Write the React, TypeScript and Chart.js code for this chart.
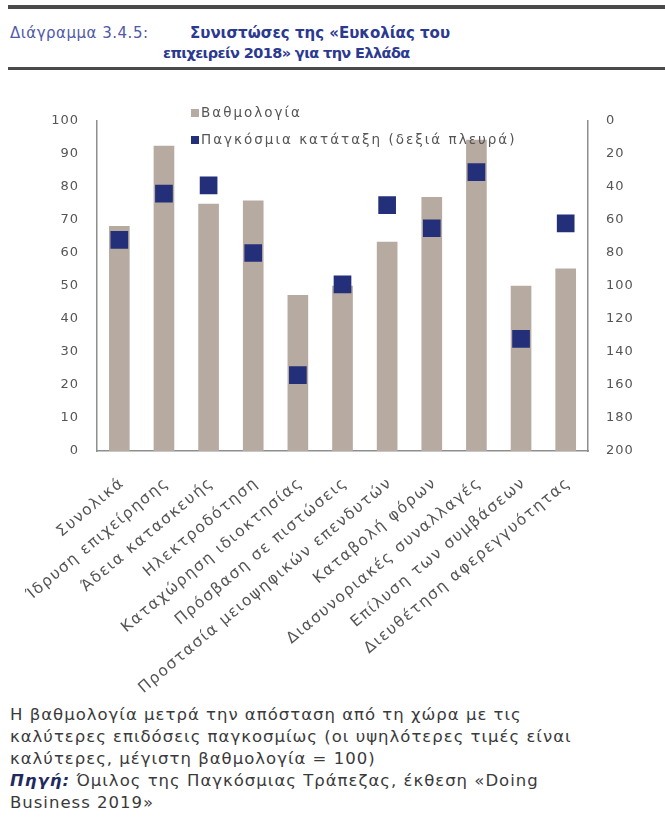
import React, { useEffect, useRef } from "react";
import { Chart, registerables } from "chart.js";

Chart.register(...registerables);

const categories: string[] = [
  "Συνολικά",
  "Ίδρυση επιχείρησης",
  "Άδεια κατασκευής",
  "Ηλεκτροδότηση",
  "Καταχώρηση ιδιοκτησίας",
  "Πρόσβαση σε πιστώσεις",
  "Προστασία μειοψηφικών επενδυτών",
  "Καταβολή φόρων",
  "Διασυνοριακές συναλλαγές",
  "Επίλυση των συμβάσεων",
  "Διευθέτηση αφερεγγυότητας",
];

const scores: number[] = [68.1, 92.4, 74.8, 75.8, 47.2, 50.0, 63.3, 76.9, 94.2, 50.0, 55.2];
const ranks: number[] = [72, 44, 39, 80, 154, 99, 51, 65, 31, 132, 62];

const scoreLabel = "Βαθμολογία";
const rankLabel = "Παγκόσμια κατάταξη (δεξιά πλευρά)";

const BAR = "#b7aaa1";
const MARK = "#232f78";
const AXIS = "#8e8e8e";
const TICK = "#555555";
const FONT = "'DejaVu Sans', sans-serif";

const SPACING: Record<string, string> = { x: "1.5px", y: "1px", y2: "1px" };

const spacingPlugin = {
  id: "letterSpacing",
  afterLayout(chart: any) {
    Object.keys(chart.scales).forEach((id) => {
      const s = chart.scales[id];
      if (s.__spacingPatched) return;
      const orig = s.drawLabels;
      s.drawLabels = function (area: any) {
        const ctx = this.ctx;
        ctx.save();
        ctx.letterSpacing = SPACING[id] || "0px";
        orig.call(this, area);
        ctx.restore();
      };
      s.__spacingPatched = true;
    });
  },
};

export default function App() {
  const ref = useRef<HTMLCanvasElement | null>(null);

  useEffect(() => {
    if (!ref.current) return;
    const chart = new Chart(ref.current, {
      data: {
        labels: categories,
        datasets: [
          {
            type: "line" as const,
            label: rankLabel,
            data: ranks,
            yAxisID: "y2",
            showLine: false,
            pointStyle: "rect",
            pointRadius: 12.5,
            pointBackgroundColor: MARK,
            pointBorderColor: MARK,
            pointBorderWidth: 0,
            order: 1,
          },
          {
            type: "bar" as const,
            label: scoreLabel,
            data: scores,
            yAxisID: "y",
            backgroundColor: BAR,
            barThickness: 20,
            order: 2,
          },
        ],
      },
      options: {
        animation: false,
        responsive: true,
        maintainAspectRatio: false,
        layout: { padding: { top: 26, left: 0, right: 0, bottom: 0 } },
        plugins: { legend: { display: false }, tooltip: { enabled: false } },
        scales: {
          x: {
            grid: { display: false, drawTicks: false },
            border: { display: true, color: AXIS, width: 1.5 },
            ticks: {
              color: TICK,
              font: { family: FONT, size: 15.5 },
              minRotation: 40,
              maxRotation: 40,
              padding: 23,
              labelOffset: 3,
              autoSkip: false,
            },
            afterFit: (s: any) => {
              s.height = 249;
            },
          },
          y: {
            position: "left",
            min: 0,
            max: 100,
            grid: { display: false, drawTicks: false },
            border: { display: true, color: AXIS, width: 1.5 },
            ticks: {
              stepSize: 10,
              color: TICK,
              font: { family: FONT, size: 13 },
              padding: 18,
            },
            afterFit: (s: any) => {
              s.width = 97;
            },
          },
          y2: {
            position: "right",
            reverse: true,
            min: 0,
            max: 200,
            grid: { display: false, drawTicks: false },
            border: { display: true, color: AXIS, width: 1.5 },
            ticks: {
              stepSize: 20,
              color: TICK,
              font: { family: FONT, size: 13 },
              padding: 18,
            },
            afterFit: (s: any) => {
              s.width = 77;
            },
          },
        },
      },
      plugins: [spacingPlugin],
    } as any);
    return () => chart.destroy();
  }, []);

  return (
    <div style={{ position: "absolute", left: 0, top: 0, width: 665, height: 835, background: "#fff", fontFamily: FONT }}>
      <div style={{ position: "absolute", left: 8, top: 5, width: 657, height: 4, background: "#4a4a4a" }} />
      <div style={{ position: "absolute", left: 10, top: 24, fontSize: 15, letterSpacing: "0.5px", color: "#5058a8", whiteSpace: "nowrap" }}>
        Διάγραμμα 3.4.5:
      </div>
      <div style={{ position: "absolute", left: 190, top: 24, fontSize: 15, fontWeight: "bold", color: "#2b3990", whiteSpace: "nowrap" }}>
        Συνιστώσες της «Ευκολίας του
      </div>
      <div style={{ position: "absolute", left: 163, top: 45, fontSize: 14.5, letterSpacing: "-0.6px", fontWeight: "bold", color: "#2b3990", whiteSpace: "nowrap" }}>
        επιχειρείν 2018» για την Ελλάδα
      </div>
      <div style={{ position: "absolute", left: 8, top: 67, width: 657, height: 3, background: "#4a4a4a" }} />

      <div style={{ position: "absolute", left: 0, top: 95, width: 665, height: 605 }}>
        <canvas ref={ref} />
      </div>

      <div style={{ position: "absolute", left: 191, top: 99, fontSize: 13.5, letterSpacing: "2px", color: "#555", whiteSpace: "nowrap", lineHeight: "27px" }}>
        <div style={{ display: "flex", alignItems: "center" }}>
          <span style={{ display: "inline-block", width: 8, height: 8, background: BAR, marginRight: 2 }} />
          {scoreLabel}
        </div>
        <div style={{ display: "flex", alignItems: "center" }}>
          <span style={{ display: "inline-block", width: 8, height: 8, background: MARK, marginRight: 2 }} />
          {rankLabel}
        </div>
      </div>

      <div style={{ position: "absolute", left: 10, top: 704, width: 655, fontSize: 16.5, letterSpacing: "1px", lineHeight: "22px", color: "#3a3a3a", whiteSpace: "nowrap" }}>
        <div>Η βαθμολογία μετρά την απόσταση από τη χώρα με τις</div>
        <div>καλύτερες επιδόσεις παγκοσμίως (οι υψηλότερες τιμές είναι</div>
        <div>καλύτερες, μέγιστη βαθμολογία = 100)</div>
        <div>
          <b><i style={{ color: "#1f2a60" }}>Πηγή:</i></b> Όμιλος της Παγκόσμιας Τράπεζας, έκθεση «Doing
        </div>
        <div>Business 2019»</div>
      </div>
    </div>
  );
}
